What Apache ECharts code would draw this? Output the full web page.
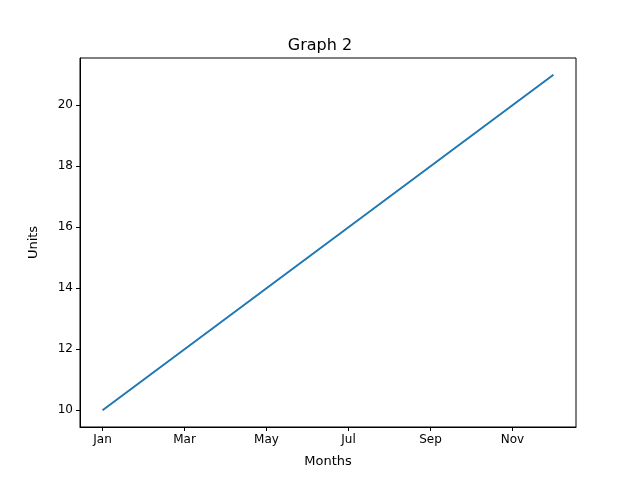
<!DOCTYPE html>
<html><head><meta charset="utf-8">
<script src="https://cdn.jsdelivr.net/npm/echarts@6/dist/echarts.min.js"></script>
<style>html,body{margin:0;padding:0;background:#fff}#c{width:640px;height:480px}</style>
</head><body><div id="c"></div>
<script>
const months = ['Jan','Feb','Mar','Apr','May','Jun','Jul','Aug','Sep','Oct','Nov','Dec'];
const units = [10,11,12,13,14,15,16,17,18,19,20,21];
const xTicks = [0,2,4,6,8,10];
const yTicks = [10,12,14,16,18,20];
const font = 'DejaVu Sans';
const chart = echarts.init(document.getElementById('c'));
chart.setOption({
  animation:false,
  title:{text:'Graph 2',left:'center',top:33,textStyle:{fontFamily:font,fontSize:16,fontWeight:'normal',color:'#000'}},
  grid:{left:80,right:64,top:58,bottom:53,show:true,borderColor:'#000',borderWidth:1},
  xAxis:{type:'value',min:-0.55,max:11.55,name:'Months',nameLocation:'middle',nameGap:28,
    nameTextStyle:{fontFamily:font,fontSize:13,color:'#000'},
    axisLine:{show:true,onZero:false,lineStyle:{color:'#000'}},splitLine:{show:false},
    axisTick:{show:true,inside:false,customValues:xTicks,length:4,lineStyle:{color:'#000'}},
    axisLabel:{customValues:xTicks,formatter:v=>months[Math.round(v)],fontFamily:font,fontSize:12,color:'#000',margin:7}},
  yAxis:{type:'value',min:9.45,max:21.55,name:'Units',nameLocation:'middle',nameGap:40,
    nameTextStyle:{fontFamily:font,fontSize:13,color:'#000'},
    axisLine:{show:true,onZero:false,lineStyle:{color:'#000'}},splitLine:{show:false},
    axisTick:{show:true,inside:false,customValues:yTicks,length:4,lineStyle:{color:'#000'}},
    axisLabel:{customValues:yTicks,fontFamily:font,fontSize:12,color:'#000',margin:7}},
  series:[{type:'line',data:units.map((v,i)=>[i,v]),symbol:'none',lineStyle:{color:'#1f77b4',width:2}}]
});
</script></body></html>
